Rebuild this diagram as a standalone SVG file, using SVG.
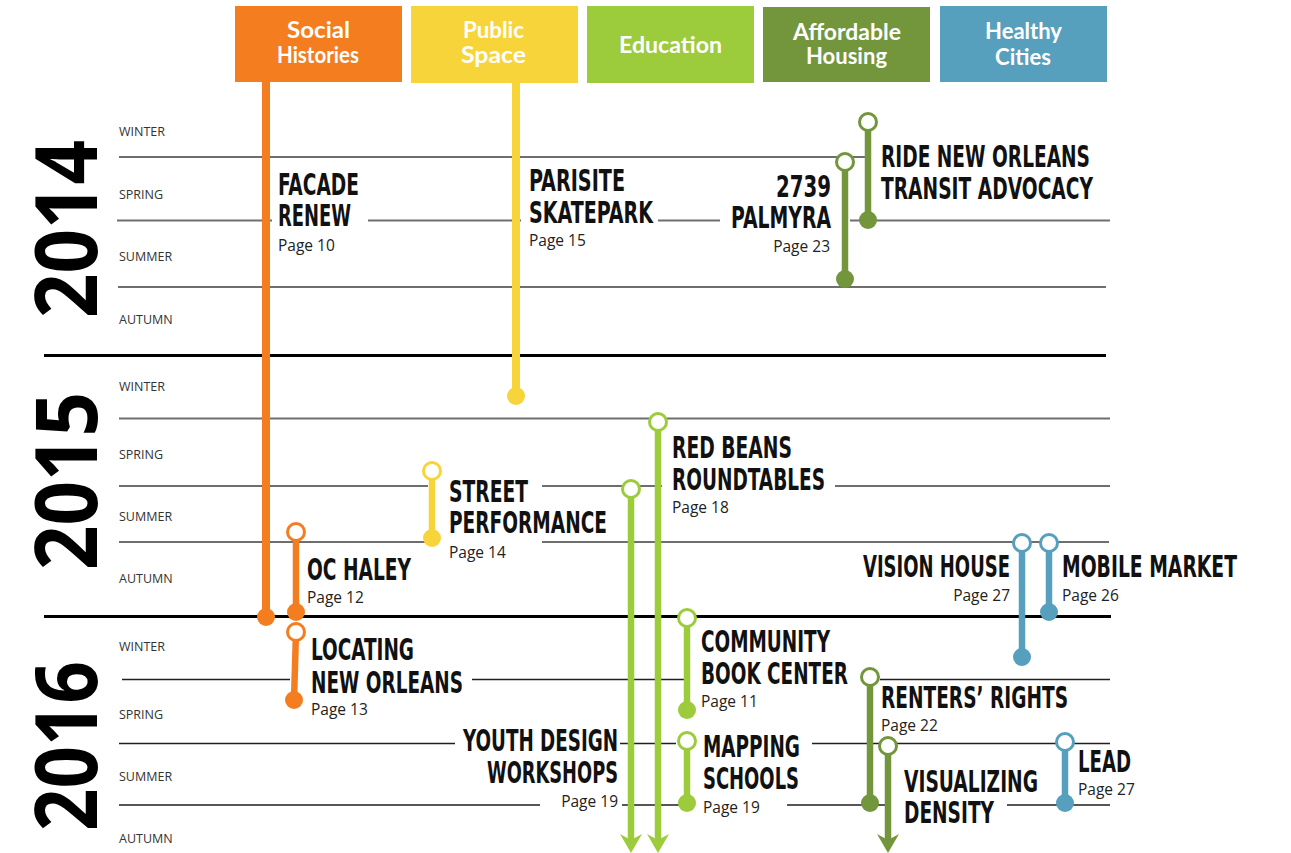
<svg xmlns="http://www.w3.org/2000/svg" width="1291" height="853" viewBox="0 0 1291 853">
<style>
.hdr{font-family:Lato,"Open Sans",sans-serif;font-weight:bold;font-size:22px;fill:#fff;text-anchor:middle}
.yr{font-family:"Open Sans",sans-serif;font-weight:bold;font-size:86px;fill:#000;text-anchor:middle}
.season{font-family:"Open Sans",sans-serif;font-size:12.5px;fill:#333}
.lbl{font-family:"Liberation Sans Narrow","DejaVu Sans Condensed","Liberation Sans",sans-serif;font-weight:bold;font-size:29.5px;fill:#111}
.pg{font-family:"Open Sans",sans-serif;font-size:15.5px;fill:#222}
.end{text-anchor:end}
.gl{stroke:#6e6e6e;stroke-width:2;fill:none}
.bl{stroke:#1f1f1f;stroke-width:1.6;fill:none}
.yl{stroke:#000;stroke-width:3;fill:none}
.or{stroke:#F47D20;fill:#F47D20}
.ye{stroke:#F7D53A;fill:#F7D53A}
.li{stroke:#9CCB3B;fill:#9CCB3B}
.ol{stroke:#73963C;fill:#73963C}
.bu{stroke:#56A0BE;fill:#56A0BE}
.bar{stroke-width:6.5}
.main{stroke-width:8}
.open{fill:#fff;stroke-width:3}
.dot{stroke:none}
.arr{stroke:none}
</style>

<!-- headers -->
<g id="hdr-social"><rect x="235" y="6" width="167" height="76" fill="#F47D20"/><text class="hdr" x="318.5" y="38" textLength="63" lengthAdjust="spacingAndGlyphs">Social</text><text class="hdr" x="318" y="63" textLength="82" lengthAdjust="spacingAndGlyphs">Histories</text></g>
<g id="hdr-public"><rect x="411" y="6" width="167" height="77" fill="#F7D53A"/><text class="hdr" x="493.5" y="38" textLength="61" lengthAdjust="spacingAndGlyphs">Public</text><text class="hdr" x="493.5" y="63" textLength="65" lengthAdjust="spacingAndGlyphs">Space</text></g>
<g id="hdr-education"><rect x="587" y="6" width="167" height="77" fill="#9CCB3B"/><text class="hdr" x="670.5" y="53" textLength="103" lengthAdjust="spacingAndGlyphs">Education</text></g>
<g id="hdr-housing"><rect x="763" y="7" width="167" height="75" fill="#73963C"/><text class="hdr" x="847" y="40" textLength="108" lengthAdjust="spacingAndGlyphs">Affordable</text><text class="hdr" x="846.5" y="64" textLength="81" lengthAdjust="spacingAndGlyphs">Housing</text></g>
<g id="hdr-healthy"><rect x="940" y="6" width="167" height="76" fill="#56A0BE"/><text class="hdr" x="1023.5" y="38.5" textLength="77" lengthAdjust="spacingAndGlyphs">Healthy</text><text class="hdr" x="1023" y="65" textLength="56" lengthAdjust="spacingAndGlyphs">Cities</text></g>

<!-- years and seasons -->
<g id="years">
<text class="yr" transform="translate(97,229) rotate(-90)" textLength="178" lengthAdjust="spacingAndGlyphs">2014</text>
<text class="yr" transform="translate(97,481) rotate(-90)" textLength="178" lengthAdjust="spacingAndGlyphs">2015</text>
<text class="yr" transform="translate(97,746) rotate(-90)" textLength="170" lengthAdjust="spacingAndGlyphs">2016</text>
</g>
<g id="seasons">
<text class="season" x="119" y="136">WINTER</text>
<text class="season" x="119" y="199">SPRING</text>
<text class="season" x="119" y="261">SUMMER</text>
<text class="season" x="119" y="324">AUTUMN</text>
<text class="season" x="119" y="391">WINTER</text>
<text class="season" x="119" y="459">SPRING</text>
<text class="season" x="119" y="521">SUMMER</text>
<text class="season" x="119" y="583">AUTUMN</text>
<text class="season" x="119" y="651">WINTER</text>
<text class="season" x="119" y="719">SPRING</text>
<text class="season" x="119" y="781">SUMMER</text>
<text class="season" x="119" y="843">AUTUMN</text>
</g>

<!-- grid lines -->
<g id="grid">
<path class="gl" d="M119 157H868 M117 220.5H272 M368 220.5H521 M658 220.5H720 M850 220.5H1110 M118 287H1106"/>
<path class="yl" d="M44 355.5H1106 M44 616.5H1111"/>
<path class="gl" d="M119 418.5H1110 M119 486H428 M542 486H662 M835 486H1110 M119 542H428 M542 542H1109"/>
<path class="bl" d="M122 679.5H290 M472 679.5H684 M880 679.5H1110 M119 743.5H455 M620 743.5H676 M812 743.5H1110 M119 805H540 M622 805H682 M787 805H885 M1007 805H1110"/>
</g>

<!-- category trunks -->
<g id="connectors">
<line class="or main" x1="266" y1="82" x2="266" y2="617"/>
<circle class="or dot" cx="266" cy="617" r="9"/>
<line class="ye main" x1="516" y1="83" x2="516" y2="396"/>
<circle class="ye dot" cx="516" cy="396" r="9"/>
</g>

<!-- projects -->
<g id="facade-renew">
<text class="lbl" x="278" y="195" textLength="81" lengthAdjust="spacingAndGlyphs">FACADE</text>
<text class="lbl" x="278" y="226" textLength="73" lengthAdjust="spacingAndGlyphs">RENEW</text>
<text class="pg" x="278" y="251">Page 10</text>
</g>
<g id="parisite-skatepark">
<text class="lbl" x="529" y="191" textLength="96" lengthAdjust="spacingAndGlyphs">PARISITE</text>
<text class="lbl" x="529" y="223" textLength="124" lengthAdjust="spacingAndGlyphs">SKATEPARK</text>
<text class="pg" x="529" y="246">Page 15</text>
</g>
<g id="palmyra">
<line class="ol bar" x1="845" y1="162" x2="845" y2="279"/>
<circle class="ol open" cx="845" cy="162" r="8.5"/>
<circle class="ol dot" cx="845" cy="279" r="9"/>
<text class="lbl end" x="831" y="197" textLength="55" lengthAdjust="spacingAndGlyphs">2739</text>
<text class="lbl end" x="831" y="228" textLength="100" lengthAdjust="spacingAndGlyphs">PALMYRA</text>
<text class="pg end" x="830" y="252">Page 23</text>
</g>
<g id="ride-new-orleans">
<line class="ol bar" x1="868" y1="122" x2="868" y2="220"/>
<circle class="ol open" cx="868" cy="122" r="8.5"/>
<circle class="ol dot" cx="868" cy="220" r="9"/>
<text class="lbl" x="881" y="167" textLength="209" lengthAdjust="spacingAndGlyphs">RIDE NEW ORLEANS</text>
<text class="lbl" x="881" y="199" textLength="212" lengthAdjust="spacingAndGlyphs">TRANSIT ADVOCACY</text>
</g>
<g id="street-performance">
<line class="ye bar" x1="432" y1="471" x2="432" y2="538"/>
<circle class="ye open" cx="432" cy="471" r="8.5"/>
<circle class="ye dot" cx="432" cy="538" r="9"/>
<text class="lbl" x="449" y="502" textLength="79" lengthAdjust="spacingAndGlyphs">STREET</text>
<text class="lbl" x="449" y="533" textLength="158" lengthAdjust="spacingAndGlyphs">PERFORMANCE</text>
<text class="pg" x="449" y="558">Page 14</text>
</g>
<g id="red-beans">
<line class="li bar" x1="658" y1="422" x2="658" y2="840"/>
<circle class="li open" cx="658" cy="422" r="8.5"/>
<path class="li arr" d="M647 834 L658 840 L669 834 L658 853 Z"/>
<text class="lbl" x="672" y="458" textLength="120" lengthAdjust="spacingAndGlyphs">RED BEANS</text>
<text class="lbl" x="672" y="490" textLength="153" lengthAdjust="spacingAndGlyphs">ROUNDTABLES</text>
<text class="pg" x="672" y="513">Page 18</text>
</g>
<g id="youth-design">
<line class="li bar" x1="631" y1="489" x2="631" y2="840"/>
<circle class="li open" cx="631" cy="489" r="8.5"/>
<path class="li arr" d="M620 834 L631 840 L642 834 L631 853 Z"/>
<text class="lbl end" x="618" y="751" textLength="155" lengthAdjust="spacingAndGlyphs">YOUTH DESIGN</text>
<text class="lbl end" x="618" y="783" textLength="131" lengthAdjust="spacingAndGlyphs">WORKSHOPS</text>
<text class="pg end" x="618" y="807">Page 19</text>
</g>
<g id="oc-haley">
<line class="or bar" x1="296" y1="532" x2="296" y2="612"/>
<circle class="or open" cx="296" cy="532" r="8.5"/>
<circle class="or dot" cx="296" cy="612" r="9"/>
<text class="lbl" x="307" y="580" textLength="104" lengthAdjust="spacingAndGlyphs">OC HALEY</text>
<text class="pg" x="307" y="603">Page 12</text>
</g>
<g id="locating-new-orleans">
<line class="or bar" x1="296" y1="632" x2="294" y2="700"/>
<circle class="or open" cx="296" cy="632" r="8.5"/>
<circle class="or dot" cx="294" cy="700" r="9"/>
<text class="lbl" x="311" y="660" textLength="103" lengthAdjust="spacingAndGlyphs">LOCATING</text>
<text class="lbl" x="311" y="693" textLength="152" lengthAdjust="spacingAndGlyphs">NEW ORLEANS</text>
<text class="pg" x="311" y="715">Page 13</text>
</g>
<g id="community-book-center">
<line class="li bar" x1="687" y1="618" x2="687" y2="710"/>
<circle class="li open" cx="687" cy="618" r="8.5"/>
<circle class="li dot" cx="687" cy="710" r="9"/>
<text class="lbl" x="701" y="652" textLength="129" lengthAdjust="spacingAndGlyphs">COMMUNITY</text>
<text class="lbl" x="701" y="684" textLength="147" lengthAdjust="spacingAndGlyphs">BOOK CENTER</text>
<text class="pg" x="701" y="707">Page 11</text>
</g>
<g id="mapping-schools">
<line class="li bar" x1="687" y1="741" x2="687" y2="803"/>
<circle class="li open" cx="687" cy="741" r="8.5"/>
<circle class="li dot" cx="687" cy="803" r="9"/>
<text class="lbl" x="703" y="757" textLength="97" lengthAdjust="spacingAndGlyphs">MAPPING</text>
<text class="lbl" x="703" y="789" textLength="96" lengthAdjust="spacingAndGlyphs">SCHOOLS</text>
<text class="pg" x="703" y="813">Page 19</text>
</g>
<g id="vision-house">
<line class="bu bar" x1="1022" y1="543" x2="1022" y2="657"/>
<circle class="bu open" cx="1022" cy="543" r="8.5"/>
<circle class="bu dot" cx="1022" cy="657" r="9"/>
<text class="lbl end" x="1010" y="577" textLength="147" lengthAdjust="spacingAndGlyphs">VISION HOUSE</text>
<text class="pg end" x="1010" y="601">Page 27</text>
</g>
<g id="mobile-market">
<line class="bu bar" x1="1049" y1="543" x2="1049" y2="612"/>
<circle class="bu open" cx="1049" cy="543" r="8.5"/>
<circle class="bu dot" cx="1049" cy="612" r="9"/>
<text class="lbl" x="1062" y="577" textLength="175" lengthAdjust="spacingAndGlyphs">MOBILE MARKET</text>
<text class="pg" x="1062" y="601">Page 26</text>
</g>
<g id="renters-rights">
<line class="ol bar" x1="870" y1="677" x2="870" y2="803"/>
<circle class="ol open" cx="870" cy="677" r="8.5"/>
<circle class="ol dot" cx="870" cy="803" r="9"/>
<text class="lbl" x="881" y="708" textLength="187" lengthAdjust="spacingAndGlyphs">RENTERS’ RIGHTS</text>
<text class="pg" x="881" y="731">Page 22</text>
</g>
<g id="visualizing-density">
<line class="ol bar" x1="888" y1="746" x2="888" y2="840"/>
<circle class="ol open" cx="888" cy="746" r="8.5"/>
<path class="ol arr" d="M877 834 L888 840 L899 834 L888 853 Z"/>
<text class="lbl" x="904" y="792" textLength="134" lengthAdjust="spacingAndGlyphs">VISUALIZING</text>
<text class="lbl" x="904" y="823" textLength="90" lengthAdjust="spacingAndGlyphs">DENSITY</text>
</g>
<g id="lead">
<line class="bu bar" x1="1065" y1="742" x2="1065" y2="803"/>
<circle class="bu open" cx="1065" cy="742" r="8.5"/>
<circle class="bu dot" cx="1065" cy="803" r="9"/>
<text class="lbl" x="1078" y="772" textLength="53" lengthAdjust="spacingAndGlyphs">LEAD</text>
<text class="pg" x="1078" y="795">Page 27</text>
</g>
</svg>
